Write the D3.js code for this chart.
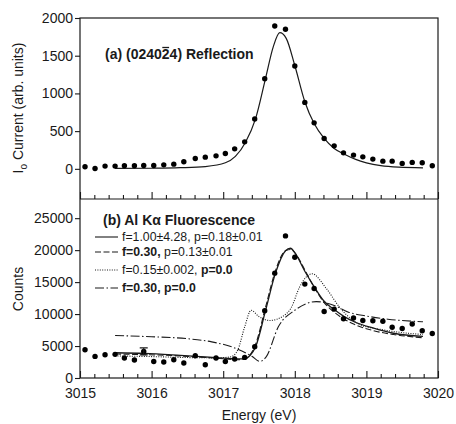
<!DOCTYPE html>
<html>
<head>
<meta charset="utf-8">
<script src="https://cdn.jsdelivr.net/npm/d3@7"></script>
<style>
body { margin: 0; background: #fff; }
svg { display: block; font-family: "Liberation Sans", Arial, Helvetica, sans-serif; }
</style>
</head>
<body>
<svg id="chart" width="456" height="424"></svg>
<script>
const width = 456;
const height = 424;

// measured points (same energy grid in both panels)
const energy = [3015.07, 3015.21, 3015.35, 3015.49, 3015.62, 3015.76, 3015.89, 3016.03, 3016.17, 3016.31,
    3016.45, 3016.61, 3016.75, 3016.90, 3017.03, 3017.16, 3017.30, 3017.44, 3017.58, 3017.72,
    3017.87, 3018.00, 3018.14, 3018.27, 3018.41, 3018.55, 3018.68, 3018.82, 3018.95, 3019.09,
    3019.23, 3019.36, 3019.50, 3019.64, 3019.78, 3019.92];
const reflection = [27, 5, 36, 36, 40, 40, 45, 45, 53, 62, 93, 138, 155, 172, 204, 265, 358, 660, 1194, 1894,
    1850, 1363, 881, 610, 403, 305, 212, 182, 159, 129, 102, 102, 72, 85, 80, 40];
const fluorescence = [4420, 3380, 3640, 3700, 3130, 2810, 4160, 2590, 2500, 2860, 2340, 3480, 2080, 3130, 2590,
    2970, 3220, 4890, 10520, 16400, 22230, 18900, 14690, 14000, 10400, 10780, 9270, 9380, 9000, 8950,
    8880, 7940, 7750, 8440, 7390, 6970];
const errEnergy = 3015.89;
const errValue = 4160;
const errHalf = 550;

// fitted curves
const reflFitE = [3015.49, 3016.0, 3016.4, 3016.75, 3017.03, 3017.17, 3017.31, 3017.45, 3017.59, 3017.70, 3017.79,
    3017.88, 3018.00, 3018.14, 3018.27, 3018.41, 3018.55, 3018.70, 3018.85, 3019.00, 3019.20, 3019.45, 3019.79];
const reflFit = [5, 8, 15, 30, 80, 165, 350, 660, 1194, 1620, 1805, 1730, 1370, 890, 600, 403, 270, 190, 125, 80, 42, 22, 14];

const fitFreeE = [3015.49, 3015.9, 3016.4, 3016.9, 3017.2, 3017.3, 3017.38, 3017.45, 3017.59, 3017.73, 3017.87, 3017.94,
    3018.00, 3018.14, 3018.28, 3018.41, 3018.55, 3018.69, 3018.83, 3019.10, 3019.38, 3019.79];
const fitFree = [3950, 3850, 3550, 3200, 2980, 3000, 3600, 4800, 10500, 16400, 19900, 20300,
    19600, 16700, 14100, 12000, 10700, 9600, 8800, 7800, 7000, 6500];
const fitP13E = [3015.49, 3016.4, 3016.9, 3017.2, 3017.32, 3017.45, 3017.59, 3017.73, 3017.87, 3017.95,
    3018.02, 3018.14, 3018.28, 3018.41, 3018.55, 3018.69, 3018.83, 3019.10, 3019.38, 3019.79];
const fitP13 = [3750, 3450, 3100, 2850, 3100, 5200, 11000, 16800, 19900, 20100,
    19300, 16900, 14000, 11800, 10300, 9200, 8400, 7400, 6800, 6300];
const fitF15E = [3015.49, 3016.0, 3016.5, 3016.9, 3017.1, 3017.2, 3017.3, 3017.39, 3017.5, 3017.65, 3017.84,
    3017.95, 3018.07, 3018.24, 3018.44, 3018.63, 3018.90, 3019.20, 3019.50, 3019.79];
const fitF15 = [3450, 3350, 3200, 3150, 3300, 4300, 8000, 10600, 9600, 9000, 9700,
    11000, 14300, 16300, 14000, 11000, 8400, 7600, 7100, 6800];
const fitF30E = [3015.49, 3016.0, 3016.5, 3016.84, 3017.16, 3017.40, 3017.51, 3017.60, 3017.77, 3018.00,
    3018.30, 3018.56, 3018.75, 3019.00, 3019.30, 3019.79];
const fitF30 = [6650, 6450, 6150, 5650, 4700, 3400, 2600, 3300, 8000, 10600,
    11950, 11300, 10300, 9700, 9200, 8800];

const xTicks = [3015, 3016, 3017, 3018, 3019, 3020];
const topTicks = [0, 500, 1000, 1500, 2000];
const botTicks = [0, 5000, 10000, 15000, 20000, 25000];

const fits = [
    { e: fitFreeE, v: fitFree, label: [['f=1.00\u00b14.28, p=0.18\u00b10.01', false]] },
    { e: fitP13E, v: fitP13, label: [['f=0.30,', true], [' p=0.13\u00b10.01', false]] },
    { e: fitF15E, v: fitF15, label: [['f=0.15\u00b10.002, ', false], ['p=0.0', true]] },
    { e: fitF30E, v: fitF30, label: [['f=0.30, p=0.0', true]] }
];
const fitDash = [null, '6,2.5', '1,1.4', '9,2.5,1.5,2.5'];
const legendY = [237, 252, 270, 288];

const ink = '#1a1a1a';
const svg = d3.select('#chart');

const xScale = d3.scaleLinear().domain([3015, 3020]).range([80, 438]);
const yTop = d3.scaleLinear().domain([-400, 2000]).range([199, 18]);
const yBot = d3.scaleLinear().domain([0, 28000]).range([378, 199]);

const minorTicks = [];
xTicks.slice(0, -1).forEach(t => [0.2, 0.4, 0.6, 0.8].forEach(s => minorTicks.push(+(t + s).toFixed(1))));

function styleAxis(g) {
    g.select('.domain').remove();
    g.selectAll('line').attr('stroke', ink).attr('stroke-width', 1.1);
    g.selectAll('text').attr('fill', ink).style('font-size', '14px').style('font-family', null);
}

// x axes (ticks point inward)
[199, 378].forEach((y, i) => {
    const major = svg.append('g')
        .attr('transform', `translate(0,${y})`)
        .call(d3.axisBottom(xScale).tickValues(xTicks).tickSize(-7).tickPadding(10)
            .tickFormat(i === 1 ? d3.format('d') : ''));
    styleAxis(major);
    const minor = svg.append('g')
        .attr('transform', `translate(0,${y})`)
        .call(d3.axisBottom(xScale).tickValues(minorTicks).tickSize(-4).tickFormat(''));
    styleAxis(minor);
});

// y axes
styleAxis(svg.append('g')
    .attr('transform', 'translate(80,0)')
    .call(d3.axisLeft(yTop).tickValues(topTicks).tickSize(5).tickPadding(2).tickFormat(d3.format('d'))));
styleAxis(svg.append('g')
    .attr('transform', 'translate(80,0)')
    .call(d3.axisLeft(yBot).tickValues(botTicks).tickSize(5).tickPadding(2).tickFormat(d3.format('d'))));

// frame
svg.append('rect')
    .attr('x', xScale(3015)).attr('y', yTop(2000))
    .attr('width', xScale(3020) - xScale(3015))
    .attr('height', yBot(0) - yTop(2000))
    .attr('fill', 'none').attr('stroke', ink).attr('stroke-width', 1.2);
svg.append('line')
    .attr('x1', xScale(3015)).attr('x2', xScale(3020))
    .attr('y1', yBot(28000)).attr('y2', yBot(28000))
    .attr('stroke', ink).attr('stroke-width', 1.2);

// panel (a)
const reflLine = d3.line()
    .x((d, i) => xScale(reflFitE[i]))
    .y(d => yTop(d))
    .curve(d3.curveMonotoneX);
svg.append('path')
    .datum(reflFit)
    .attr('d', reflLine)
    .attr('fill', 'none').attr('stroke', ink).attr('stroke-width', 1.2);

svg.selectAll('.dot-a')
    .data(reflection)
    .enter()
    .append('circle')
    .attr('class', 'dot-a')
    .attr('cx', (d, i) => xScale(energy[i]))
    .attr('cy', d => yTop(d))
    .attr('r', 2.7)
    .attr('fill', '#000');

const titleA = svg.append('text')
    .attr('x', 105).attr('y', 59)
    .attr('fill', ink)
    .style('font-size', '14px').style('font-weight', 'bold')
    .text('(a) (024024) Reflection');
const barStart = titleA.node().getStartPositionOfChar(9);
const barEnd = titleA.node().getEndPositionOfChar(9);
svg.append('line')
    .attr('x1', barStart.x + 0.5).attr('x2', barEnd.x - 0.5)
    .attr('y1', 47.5).attr('y2', 47.5)
    .attr('stroke', ink).attr('stroke-width', 1.3);

// panel (b)
fits.forEach((f, k) => {
    const line = d3.line()
        .x((d, i) => xScale(f.e[i]))
        .y(d => yBot(d))
        .curve(d3.curveMonotoneX);
    svg.append('path')
        .datum(f.v)
        .attr('d', line)
        .attr('fill', 'none')
        .attr('stroke', ink)
        .attr('stroke-width', k === 0 ? 1.3 : 1.1)
        .attr('stroke-dasharray', fitDash[k]);
});

svg.selectAll('.dot-b')
    .data(fluorescence)
    .enter()
    .append('circle')
    .attr('class', 'dot-b')
    .attr('cx', (d, i) => xScale(energy[i]))
    .attr('cy', d => yBot(d))
    .attr('r', 2.7)
    .attr('fill', '#000');

// error bar
const ex = xScale(errEnergy);
svg.append('path')
    .attr('d', `M${ex},${yBot(errValue - errHalf)}V${yBot(errValue + errHalf)}` +
        `M${ex - 4},${yBot(errValue + errHalf)}H${ex + 4}M${ex - 4},${yBot(errValue - errHalf)}H${ex + 4}`)
    .attr('fill', 'none').attr('stroke', ink).attr('stroke-width', 1.1);

svg.append('text')
    .attr('x', 103).attr('y', 225)
    .attr('fill', ink)
    .style('font-size', '14px').style('font-weight', 'bold')
    .text('(b) Al K\u03b1 Fluorescence');

const legend = svg.append('g');
fits.forEach((f, k) => {
    const y = legendY[k];
    legend.append('line')
        .attr('x1', 95).attr('x2', 118)
        .attr('y1', y).attr('y2', y)
        .attr('stroke', ink).attr('stroke-width', 1.1)
        .attr('stroke-dasharray', fitDash[k]);
    const t = legend.append('text')
        .attr('x', 122).attr('y', y).attr('dy', '0.36em')
        .attr('fill', ink)
        .style('font-size', '12.3px')
        .style('white-space', 'pre');
    f.label.forEach(p => {
        t.append('tspan').style('font-weight', p[1] ? 'bold' : 'normal').text(p[0]);
    });
});

// axis titles
const yLabA = svg.append('text')
    .attr('transform', 'translate(23,108) rotate(-90)')
    .attr('text-anchor', 'middle')
    .attr('fill', ink)
    .style('font-size', '14px');
yLabA.append('tspan').text('I');
yLabA.append('tspan').attr('dy', 4).style('font-size', '10px').text('o');
yLabA.append('tspan').attr('dy', -4).text(' Current (arb. units)');

svg.append('text')
    .attr('transform', 'translate(23,289) rotate(-90)')
    .attr('text-anchor', 'middle')
    .attr('fill', ink)
    .style('font-size', '14px')
    .text('Counts');

svg.append('text')
    .attr('x', 259).attr('y', 420)
    .attr('text-anchor', 'middle')
    .attr('fill', ink)
    .style('font-size', '14px')
    .text('Energy (eV)');
</script>
</body>
</html>
